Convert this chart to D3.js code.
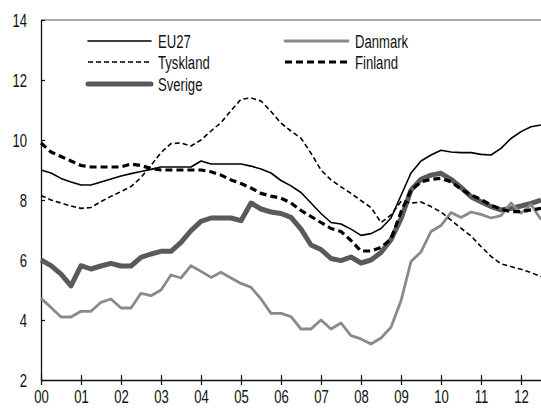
<!DOCTYPE html>
<html>
<head>
<meta charset="utf-8">
<script src="https://cdn.jsdelivr.net/npm/d3@7"></script>
<style>
  body { margin: 0; background: #fff; }
  svg text { font-family: "Liberation Sans", Arial, sans-serif; font-size: 19px; fill: #111; }
</style>
</head>
<body>
<svg id="chart" width="541" height="408"></svg>
<script>
// quarterly data, first point = 2000 Q1
let startYear = 2000;
let yearTicks = [2000, 2001, 2002, 2003, 2004, 2005, 2006, 2007, 2008, 2009, 2010, 2011, 2012];
let yTicks = [2, 4, 6, 8, 10, 12, 14];

let eu27 = [9.0, 8.9, 8.72, 8.6, 8.5, 8.5, 8.6, 8.7, 8.8, 8.88, 8.95, 9.02, 9.1, 9.1, 9.1, 9.1,
    9.3, 9.2, 9.2, 9.2, 9.2, 9.13, 9.03, 8.9, 8.65, 8.47, 8.25, 7.9, 7.55, 7.25, 7.2, 7.03,
    6.82, 6.88, 7.05, 7.4, 8.15, 8.9, 9.3, 9.5, 9.66, 9.6, 9.58, 9.58, 9.52, 9.5, 9.72, 10.05,
    10.28, 10.44, 10.5];
let danmark = [4.72, 4.42, 4.1, 4.1, 4.29, 4.29, 4.59, 4.7, 4.4, 4.4, 4.89, 4.81, 5.0, 5.5, 5.4, 5.81,
    5.62, 5.42, 5.59, 5.4, 5.22, 5.09, 4.7, 4.22, 4.22, 4.11, 3.7, 3.7, 4.0, 3.7, 3.9, 3.48,
    3.37, 3.2, 3.4, 3.76, 4.64, 5.95, 6.27, 6.95, 7.15, 7.58, 7.42, 7.6, 7.52, 7.4, 7.48, 7.9,
    7.56, 7.85, 7.35];
let tyskland = [8.15, 8.0, 7.9, 7.8, 7.72, 7.75, 7.95, 8.12, 8.28, 8.45, 8.75, 9.15, 9.58, 9.88, 9.9, 9.8,
    10.0, 10.3, 10.58, 10.98, 11.36, 11.4, 11.3, 10.95, 10.56, 10.3, 10.06, 9.56, 9.0, 8.67, 8.44, 8.22,
    7.98, 7.75, 7.25, 7.5, 7.95, 7.9, 7.93, 7.78, 7.6, 7.33, 7.06, 6.8, 6.45, 6.12, 5.87, 5.78,
    5.69, 5.58, 5.45];
let finland = [9.9, 9.6, 9.45, 9.3, 9.15, 9.1, 9.1, 9.1, 9.1, 9.2, 9.15, 9.05, 9.0, 9.0, 9.0, 9.0,
    9.0, 8.94, 8.83, 8.67, 8.55, 8.4, 8.22, 8.13, 8.06, 7.9, 7.65, 7.45, 7.25, 7.05, 6.95, 6.65,
    6.3, 6.3, 6.42, 6.7, 7.6, 8.33, 8.6, 8.69, 8.72, 8.61, 8.36, 8.17, 8.02, 7.83, 7.69, 7.61,
    7.61, 7.67, 7.72];
let sverige = [6.0, 5.81, 5.53, 5.14, 5.81, 5.7, 5.8, 5.89, 5.8, 5.8, 6.09, 6.2, 6.29, 6.29, 6.59, 6.98,
    7.29, 7.4, 7.4, 7.4, 7.31, 7.9, 7.7, 7.6, 7.55, 7.42, 7.03, 6.5, 6.35, 6.05, 5.98, 6.1,
    5.9, 6.0, 6.25, 6.68, 7.38, 8.33, 8.69, 8.83, 8.89, 8.69, 8.42, 8.11, 7.94, 7.78, 7.67, 7.72,
    7.8, 7.89, 8.0];

let seriesNames = ["EU27", "Danmark", "Tyskland", "Finland", "Sverige"];
let seriesValues = [eu27, danmark, tyskland, finland, sverige];

// line styles per series
let styles = {
    "EU27":     {stroke: "#000", width: 1.6, dash: null},
    "Danmark":  {stroke: "#8a8a8a", width: 2.8, dash: null},
    "Tyskland": {stroke: "#000", width: 1.6, dash: "5,3"},
    "Finland":  {stroke: "#000", width: 3.2, dash: "7,4"},
    "Sverige":  {stroke: "#5a5a5a", width: 5, dash: null}
};

// no condensed font installed, so text gets squeezed horizontally
let squeeze = 0.69;

let svg = d3.select("#chart");
let margin = {top: 20, right: 0, bottom: 28, left: 41},
    width = 541 - margin.left - margin.right,
    height = 408 - margin.top - margin.bottom;

let g = svg.append("g")
    .attr("transform", "translate(" + margin.left + "," + margin.top + ")");

let xScale = d3.scaleLinear()
    .domain([2000, 2012.5])
    .range([0, width]);

let yScale = d3.scaleLinear()
    .domain([2, 14])
    .range([height, 0]);

//top frame line
g.append("line")
    .attr("x1", 0).attr("x2", width)
    .attr("y1", yScale(14)).attr("y2", yScale(14))
    .attr("stroke", "#555")
    .attr("stroke-width", 1);

//y axis, ticks pointing inward
let yAxis = g.append("g")
    .call(d3.axisLeft(yScale).tickValues(yTicks).tickSize(-4).tickSizeOuter(0).tickPadding(14 / squeeze));

//x axis, ticks crossing the axis line
let xAxis = g.append("g")
    .attr("transform", "translate(0," + height + ")")
    .call(d3.axisBottom(xScale).tickValues(yearTicks).tickSize(5).tickSizeOuter(0).tickPadding(5)
        .tickFormat(d => d3.format("02d")(d % 100)));
xAxis.selectAll(".tick line").attr("y1", -5);

[xAxis, yAxis].forEach(ax => {
    ax.select(".domain").attr("stroke", "#111").attr("stroke-width", 1.3);
    ax.selectAll(".tick line").attr("stroke", "#111").attr("stroke-width", 1.2);
    ax.selectAll("text")
        .attr("font-size", null)
        .attr("font-family", null)
        .attr("transform", "scale(" + squeeze + ",1)");
});
yAxis.selectAll("text").attr("dy", "0.36em");

let line = d3.line()
    .x((d, i) => xScale(startYear + i / 4))
    .y(d => yScale(d));

// drawing order: Sverige underneath, dashed lines on top
let drawOrder = ["Sverige", "EU27", "Danmark", "Tyskland", "Finland"];
drawOrder.forEach(name => {
    let s = styles[name];
    g.append("path")
        .datum(seriesValues[seriesNames.indexOf(name)])
        .attr("fill", "none")
        .attr("stroke", s.stroke)
        .attr("stroke-width", s.width)
        .attr("stroke-dasharray", s.dash)
        .attr("stroke-linejoin", "round")
        .attr("d", line);
});

//legend in two columns
let legendPos = [
    {name: "EU27", x: 88, y: 41},
    {name: "Tyskland", x: 88, y: 62},
    {name: "Sverige", x: 88, y: 84},
    {name: "Danmark", x: 285, y: 41},
    {name: "Finland", x: 285, y: 62}
];
let legend = svg.append("g");
legendPos.forEach(p => {
    let s = styles[p.name];
    legend.append("line")
        .attr("x1", p.x).attr("x2", p.x + 63)
        .attr("y1", p.y).attr("y2", p.y)
        .attr("stroke", s.stroke)
        .attr("stroke-width", s.width)
        .attr("stroke-dasharray", s.dash)
        .attr("stroke-linecap", s.dash ? null : "round");
    legend.append("text")
        .attr("transform", "translate(" + (p.x + 70) + "," + p.y + ") scale(" + squeeze + ",1)")
        .attr("dy", "0.36em")
        .text(p.name);
});
</script>
</body>
</html>
